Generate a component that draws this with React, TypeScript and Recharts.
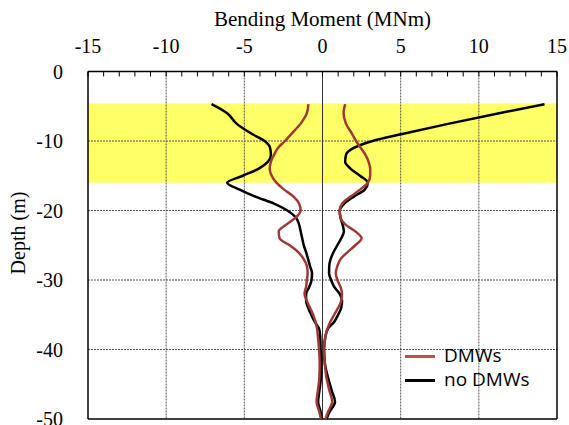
import { LineChart, Line, XAxis, YAxis, ReferenceArea, ReferenceLine, Legend } from 'recharts';

// depth below ground (m)
const depths = [-4.7, -6, -7.5, -9, -10, -11, -12, -13, -14, -15, -16, -17, -18, -19, -20, -21, -22, -23, -24, -25, -26, -27, -28, -29, -30, -31, -32, -33, -34, -35, -36, -37, -38, -40, -42, -44, -46, -47.5, -49, -50];

// bending moment envelopes (MNm)
const noDmwsMin = [-7.1, -6.1, -5.5, -4.5, -3.7, -3.35, -3.3, -3.5, -4.1, -5.1, -6.1, -5.3, -4.3, -3.1, -2.25, -1.7, -1.5, -1.4, -1.3, -1.2, -1.05, -0.92, -0.8, -0.67, -0.7, -0.85, -1.05, -1.05, -0.92, -0.72, -0.5, -0.22, -0.15, -0.12, -0.08, -0.1, -0.2, -0.28, -0.12, -0.05];
const noDmwsMax = [14.2, 11.3, 8.1, 5.1, 3.2, 2.0, 1.5, 1.45, 1.8, 2.4, 2.9, 2.7, 2.0, 1.4, 1.1, 1.15, 1.28, 1.37, 1.2, 0.95, 0.7, 0.52, 0.43, 0.42, 0.55, 0.75, 1.1, 1.25, 1.2, 1.0, 0.75, 0.35, 0.2, 0.1, 0.15, 0.35, 0.6, 0.8, 0.45, 0.25];
const dmwsMin = [-0.9, -1.0, -1.4, -2.0, -2.4, -2.85, -3.1, -3.3, -3.38, -3.25, -2.95, -2.45, -1.85, -1.5, -1.4, -1.7, -2.3, -2.8, -2.75, -2.1, -1.55, -1.2, -1.0, -0.95, -1.0, -1.05, -1.15, -1.0, -0.8, -0.6, -0.45, -0.35, -0.3, -0.22, -0.18, -0.2, -0.3, -0.38, -0.2, -0.1];
const dmwsMax = [1.45, 1.35, 1.5, 1.9, 2.15, 2.45, 2.75, 2.95, 3.05, 3.05, 2.9, 2.4, 1.8, 1.26, 1.1, 1.15, 1.45, 2.1, 2.5, 2.1, 1.6, 1.15, 0.95, 0.85, 0.95, 1.15, 1.25, 1.2, 1.0, 0.75, 0.5, 0.32, 0.2, 0.1, 0.15, 0.25, 0.45, 0.62, 0.35, 0.2];

const momentTicks = [-15, -14, -13, -12, -11, -10, -9, -8, -7, -6, -5, -4, -3, -2, -1, 0, 1, 2, 3, 4, 5, 6, 7, 8, 9, 10, 11, 12, 13, 14, 15];
const depthTicks = [0, -10, -20, -30, -40, -50];
const gridMoments = [-10, -5, 5, 10];
const gridDepths = [-10, -20, -30, -40];
const bandTop = -4.6;
const bandBottom = -16;

const RED = '#9e3a36';
const legendItems = [
    { name: 'DMWs', color: '#c0504d' },
    { name: 'no DMWs', color: '#000000' },
];

const data = depths.map((d, i) => ({
    depth: d,
    noDmwsMin: noDmwsMin[i],
    noDmwsMax: noDmwsMax[i],
    dmwsMin: dmwsMin[i],
    dmwsMax: dmwsMax[i],
}));

const SERIF = '"Liberation Serif", "Times New Roman", serif';
const SANS = '"Open Sans", sans-serif';

function TopTick(props: any) {
    const { x, y, payload } = props;
    const v = payload.value;
    const axisY = y + 19;
    return (
        <g>
            <line x1={x} x2={x} y1={axisY} y2={axisY + 5} stroke="#000" strokeWidth={1} />
            {v % 5 === 0 && (
                <text x={x} y={y} textAnchor="middle" fontFamily={SERIF} fontSize={20} fill="#000">
                    {v}
                </text>
            )}
        </g>
    );
}

function renderLegend() {
    return (
        <div style={{ fontFamily: SANS, fontSize: 19, lineHeight: '24px', color: '#000' }}>
            {legendItems.map((item) => (
                <div key={item.name} style={{ display: 'flex', alignItems: 'center' }}>
                    <span style={{ display: 'inline-block', width: 30, height: 2.5, background: item.color, marginRight: 9, marginTop: 3 }} />
                    {item.name}
                </div>
            ))}
        </div>
    );
}

export default function App() {
    return (
        <div style={{ position: 'absolute', left: 0, top: 0, width: 569, height: 425, background: '#fff' }}>
            <LineChart
                width={569}
                height={425}
                data={data}
                layout="vertical"
                margin={{ top: 0.5, right: 12, bottom: 6, left: 0 }}
            >
                <ReferenceArea y1={bandBottom} y2={bandTop} fill="#ffff66" fillOpacity={1} stroke="none" />
                {gridMoments.map((m) => (
                    <ReferenceLine key={'gx' + m} x={m} stroke="#555" strokeDasharray="2 1" />
                ))}
                {gridDepths.map((d) => (
                    <ReferenceLine key={'gy' + d} y={d} stroke="#555" strokeDasharray="2 1" />
                ))}
                <ReferenceLine x={0} stroke="#333" />
                <ReferenceLine x={15} stroke="#000" strokeWidth={1.5} />
                <ReferenceLine y={-50} stroke="#000" strokeWidth={1.5} />
                <XAxis
                    type="number"
                    orientation="top"
                    domain={[-15, 15]}
                    ticks={momentTicks}
                    interval={0}
                    tick={TopTick}
                    tickLine={false}
                    tickSize={0}
                    tickMargin={19}
                    height={71}
                    axisLine={{ stroke: '#000', strokeWidth: 1.5 }}
                />
                <YAxis
                    type="number"
                    dataKey="depth"
                    domain={[-50, 0]}
                    reversed
                    ticks={depthTicks}
                    interval={0}
                    tickLine={false}
                    tickSize={0}
                    tickMargin={25}
                    width={88}
                    axisLine={{ stroke: '#000', strokeWidth: 1.5 }}
                    tick={{ fontFamily: SERIF, fontSize: 20, fill: '#000' }}
                />
                <Line type="monotone" dataKey="noDmwsMin" stroke="#000" strokeWidth={2.5} dot={false} isAnimationActive={false} />
                <Line type="monotone" dataKey="noDmwsMax" stroke="#000" strokeWidth={2.5} dot={false} isAnimationActive={false} />
                <Line type="monotone" dataKey="dmwsMin" stroke={RED} strokeWidth={2.5} dot={false} isAnimationActive={false} />
                <Line type="monotone" dataKey="dmwsMax" stroke={RED} strokeWidth={2.5} dot={false} isAnimationActive={false} />
                <Legend
                    layout="vertical"
                    align="center"
                    verticalAlign="middle"
                    content={renderLegend}
                    wrapperStyle={{ left: 405, top: 343, width: 150 }}
                />
                <text x={322.5} y={26} textAnchor="middle" fontFamily={SERIF} fontSize={21} fill="#000">
                    Bending Moment (MNm)
                </text>
                <text
                    x={18}
                    y={233}
                    transform="rotate(-90 18 233)"
                    textAnchor="middle"
                    dominantBaseline="central"
                    fontFamily={SERIF}
                    fontSize={20}
                    fill="#000"
                >
                    Depth (m)
                </text>
                <text x={97} y={133} fontFamily={SANS} fontSize={17.5} fill="#000">
                    Grid-form
                </text>
                <text x={97} y={159} fontFamily={SANS} fontSize={17.5} fill="#000">
                    DMWs
                </text>
            </LineChart>
        </div>
    );
}
